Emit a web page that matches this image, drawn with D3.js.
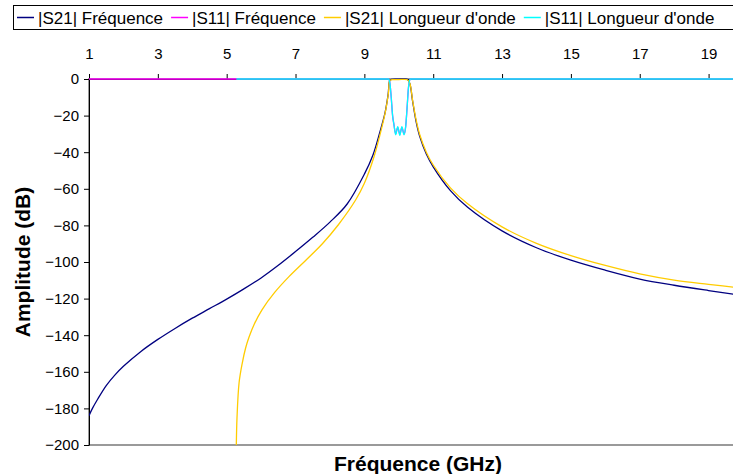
<!DOCTYPE html>
<html><head><meta charset="utf-8">
<script src="https://cdn.jsdelivr.net/npm/d3@7"></script>
<style>body{margin:0;background:#fff;overflow:hidden}svg{display:block;font-family:"Liberation Sans",Arial,sans-serif}</style>
</head><body><svg id="c" width="733" height="474"></svg>
<script>
// ---- data ----
const xTickValues = [1, 3, 5, 7, 9, 11, 13, 15, 17, 19];
const yTickValues = [0, -20, -40, -60, -80, -100, -120, -140, -160, -180, -200];
const seriesNames = ["|S21| Fréquence", "|S11| Fréquence", "|S21| Longueur d'onde", "|S11| Longueur d'onde"];

const s21FreqF  = [1.0, 1.1, 1.25, 1.5, 1.75, 2.0, 2.5, 3.0, 3.5, 4.0, 4.5, 5.0, 5.5, 6.0, 6.5, 7.0, 7.5, 8.0, 8.5, 9.0, 9.25, 9.45, 9.6, 9.69, 9.74, 9.8, 10.0, 10.25, 10.32, 10.4, 10.5, 10.61, 10.8, 11.0, 11.5, 12.0, 13.0, 14.0, 15.0, 16.0, 17.0, 18.0, 19.0, 20.0];
const s21FreqDb = [-184, -180, -175, -167.5, -161.8, -157, -149, -142.3, -136.3, -130.7, -125.5, -120.3, -114.7, -108.7, -101.8, -94.3, -86.5, -78.2, -68.3, -52, -41.5, -29, -18.5, -8.5, -0.8, -0.2, -0.1, -0.2, -2.5, -12, -23, -31.5, -41, -48, -61, -70.1, -83, -92.2, -99, -104.5, -109.3, -112.7, -115.6, -118.3];

const s11FreqF  = [1.0, 9.70, 9.74, 9.78, 9.82, 9.86, 9.91, 9.97, 10.03, 10.09, 10.15, 10.20, 10.24, 10.28, 10.31, 10.34, 20.0];
const s11FreqDb = [0, 0, -2, -10, -20, -25, -30, -26.5, -30.3, -26.5, -30, -26, -16, -5, -1, 0, 0];

const s21WaveF  = [5.28, 5.30, 5.36, 5.45, 5.55, 5.65, 5.8, 6.03, 6.4, 6.81, 7.3, 7.78, 8.25, 8.75, 9.0, 9.28, 9.5, 9.62, 9.7, 9.74, 9.8, 10.0, 10.25, 10.32, 10.4, 10.5, 10.61, 10.8, 11.0, 11.5, 12.0, 13.0, 14.0, 15.0, 16.0, 17.0, 18.0, 19.0, 20.0];
const s21WaveDb = [-200, -185, -166, -155.5, -147, -141, -134, -126, -116.5, -108, -99, -90, -79.5, -66, -57, -42.5, -27, -17, -7.5, -0.8, -0.4, -0.3, -0.4, -2.3, -11.5, -22, -30.5, -40, -47, -59.5, -68.2, -80.8, -89.8, -96.5, -101.9, -106.5, -109.9, -112.2, -114.3];

const s11WaveF  = [5.28, 9.70, 9.74, 9.78, 9.82, 9.86, 9.91, 9.97, 10.03, 10.09, 10.15, 10.20, 10.24, 10.28, 10.31, 10.34, 20.0];
const s11WaveDb = [0, 0, -2, -10, -20, -25, -30.5, -26, -30.8, -26, -30.5, -26, -16, -5, -1, 0, 0];

// ---- style ----
const colors = ["#000080", "#FF00FF", "#FFCC00", "#00FFFF"];
const tickFont = 15, legendFont = 17, titleFont = 21;

const svg = d3.select("#c");
const L = 89, T = 79, B = 445, R = 743;
const x = d3.scaleLinear().domain([1, 20]).range([L, R]);
const y = d3.scaleLinear().domain([-200, 0]).range([B, T]);

svg.append("defs").append("clipPath").attr("id", "clip")
  .append("rect").attr("x", L).attr("y", T - 1.5).attr("width", R - L).attr("height", B - T + 2.5);

// plot area border
svg.append("rect").attr("x", L).attr("y", T).attr("width", R - L).attr("height", B - T)
  .attr("fill", "none").attr("stroke", "#9a9a9a").attr("stroke-width", 2);

// y axis
const yAxis = svg.append("g").attr("transform", `translate(${L},0)`)
  .call(d3.axisLeft(y).tickValues(yTickValues).tickSize(5).tickPadding(5).tickSizeOuter(0));
yAxis.select(".domain").attr("stroke", "#000");
yAxis.selectAll("text").attr("font-size", tickFont).attr("font-family", "Liberation Sans, Arial, sans-serif").attr("fill", "#000");

// x axis at top (0 dB)
const xAxis = svg.append("g").attr("transform", `translate(0,${T})`)
  .call(d3.axisTop(x).tickValues(xTickValues).tickSize(5).tickPadding(15).tickSizeOuter(0));
xAxis.select(".domain").attr("stroke", "#000");
xAxis.selectAll("text").attr("font-size", tickFont).attr("font-family", "Liberation Sans, Arial, sans-serif").attr("fill", "#000");

// series
const series = [
  [s21FreqF, s21FreqDb, d3.curveCatmullRom.alpha(0.5)],
  [s11FreqF, s11FreqDb, d3.curveMonotoneX],
  [s21WaveF, s21WaveDb, d3.curveCatmullRom.alpha(0.5)],
  [s11WaveF, s11WaveDb, d3.curveMonotoneX]
];
const gS = svg.append("g").attr("clip-path", "url(#clip)");
series.forEach(([fs, ds, cv], i) => {
  const line = d3.line().x(d => x(d[0])).y(d => y(d[1])).curve(cv);
  gS.append("path").datum(fs.map((f, k) => [f, ds[k]]))
    .attr("d", line).attr("fill", "none").attr("stroke", colors[i]).attr("stroke-width", 1.3);
});

// axis titles
svg.append("text").attr("x", 418).attr("y", 471).attr("text-anchor", "middle")
  .attr("font-size", titleFont).attr("font-weight", "bold").text("Fréquence (GHz)");
svg.append("text").attr("transform", `translate(30,262) rotate(-90)`).attr("text-anchor", "middle")
  .attr("font-size", titleFont).attr("font-weight", "bold").text("Amplitude (dB)");

// legend
const lg = svg.append("g");
lg.append("rect").attr("x", 13.5).attr("y", 5.5).attr("width", 740).attr("height", 24)
  .attr("fill", "#fff").attr("stroke", "#000");
let lx = 17;
seriesNames.forEach((n, i) => {
  lg.append("line").attr("x1", lx).attr("x2", lx + 17).attr("y1", 17.5).attr("y2", 17.5)
    .attr("stroke", colors[i]).attr("stroke-width", 1.5);
  const t = lg.append("text").attr("x", lx + 21).attr("y", 23.5).attr("font-size", legendFont).text(n);
  lx += 21 + t.node().getComputedTextLength() + 8;
});
</script></body></html>
